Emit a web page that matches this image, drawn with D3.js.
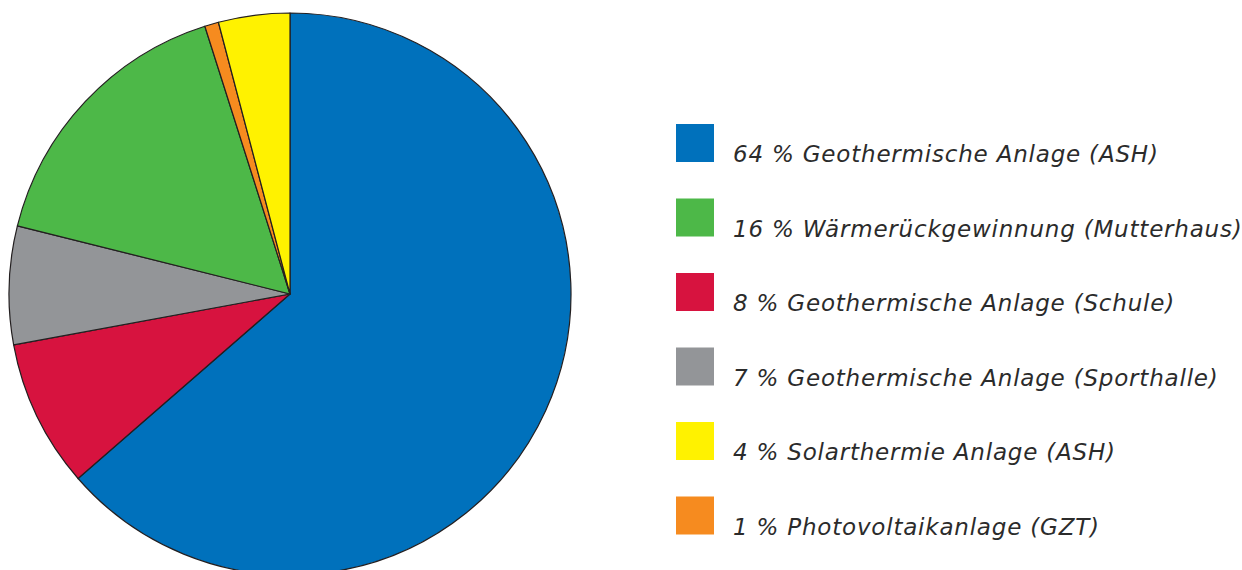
<!DOCTYPE html>
<html><head><meta charset="utf-8">
<script src="https://cdn.jsdelivr.net/npm/d3@7/dist/d3.min.js"></script>
<style>body{margin:0;background:#fff;overflow:hidden}</style>
</head><body>
<svg id="chart" width="1242" height="570"></svg>
<script>
// Slices in clockwise drawing order from 12 o'clock
const sliceNames = ["Geothermische Anlage (ASH)", "Geothermische Anlage (Schule)", "Geothermische Anlage (Sporthalle)", "Wärmerückgewinnung (Mutterhaus)", "Photovoltaikanlage (GZT)", "Solarthermie Anlage (ASH)"];
const sliceValues = [63.6, 8.5, 6.8, 16.2, 0.8, 4.1];
const sliceColors = ["#0071bc", "#d7133f", "#939598", "#4db848", "#f68b1f", "#fff200"];
// Legend
const legendLabels = ["64 % Geothermische Anlage (ASH)", "16 % Wärmerückgewinnung (Mutterhaus)", "8 % Geothermische Anlage (Schule)", "7 % Geothermische Anlage (Sporthalle)", "4 % Solarthermie Anlage (ASH)", "1 % Photovoltaikanlage (GZT)"];
const legendColors = ["#0071bc", "#4db848", "#d7133f", "#939598", "#fff200", "#f68b1f"];

const svg = d3.select("#chart");
const cx = 290, cy = 294, r = 281;
const pie = d3.pie().sort(null).value(d => d)(sliceValues);
const arc = d3.arc().innerRadius(0).outerRadius(r);
svg.append("g").attr("transform", `translate(${cx},${cy})`)
  .selectAll("path").data(pie).join("path")
  .attr("d", arc).attr("fill", (d, i) => sliceColors[i])
  .attr("stroke", "#231f20").attr("stroke-width", 1.2).attr("stroke-linejoin", "round");

const y = d3.scaleBand().domain(d3.range(legendLabels.length)).range([124, 124 + 74.5 * 6]);
const lg = svg.append("g");
const items = lg.selectAll("g").data(legendLabels).join("g")
  .attr("transform", (d, i) => `translate(0,${y(i)})`);
items.append("rect").attr("x", 676).attr("y", 0).attr("width", 38).attr("height", 38)
  .attr("fill", (d, i) => legendColors[i]);
items.append("text").attr("x", 733).attr("y", 38)
  .attr("font-family", "DejaVu Sans").attr("font-style", "italic").attr("font-size", 23)
  .attr("letter-spacing", 0.8)
  .attr("fill", "#2b2b2b").text(d => d);
</script>
</body></html>
